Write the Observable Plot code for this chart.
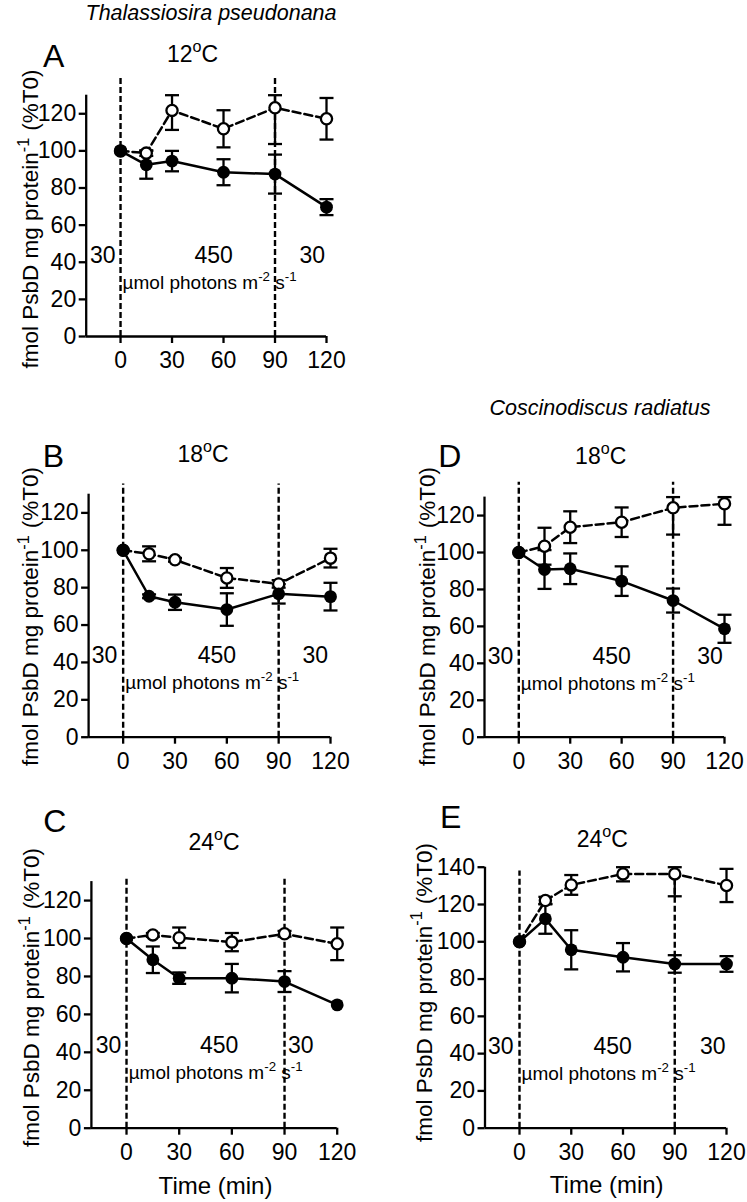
<!DOCTYPE html>
<html><head><meta charset="utf-8">
<script src="https://cdn.jsdelivr.net/npm/d3@7"></script>
<script src="https://cdn.jsdelivr.net/npm/@observablehq/plot@0.6"></script>
<style>
body{margin:0;background:#fff;}
#page{position:relative;width:747px;height:1202px;overflow:hidden;background:#fff;}
.panel{position:absolute;}
.panel svg{overflow:visible;background:none;}
</style></head><body><div id="page"></div>
<script>
// ---------------- data ----------------
const times = [0, 15, 30, 60, 90, 120];
const xTicks = [0, 30, 60, 90, 120];
const lightShifts = [0, 90];
const doseLabels = ["30", "450", "30"];
const panelLetters = ["A", "B", "C", "D", "E"];
const temperatures = ["12", "18", "24", "18", "24"];
const speciesNames = ["Thalassiosira pseudonana", "Coscinodiscus radiatus"];
const yTicks130 = [0, 20, 40, 60, 80, 100, 120];
const yTicks140 = [0, 20, 40, 60, 80, 100, 120, 140];

// Panel A – T. pseudonana 12 °C
const A_filled    = [100, 92.5, 94.5, 88.5, 87.5, 69.7];
const A_filledErr = [0, 7.5, 5.5, 7.0, 10.5, 4.3];
const A_open      = [100, 98.8, 121.8, 111.9, 123.2, 117.3];
const A_openErr   = [0, 1.5, 10.5, 10.0, 19.5, 11.2];
// Panel B – T. pseudonana 18 °C
const B_filled    = [100, 75.4, 72.2, 68.3, 76.7, 75.2];
const B_filledErr = [0, 1.0, 4.1, 8.7, 5.2, 7.4];
const B_open      = [100, 98.1, 94.9, 85.2, 82.0, 95.8];
const B_openErr   = [0, 4.0, 1.0, 5.3, 2.0, 5.0];
// Panel C – T. pseudonana 24 °C
const C_filled    = [100, 88.8, 79.1, 79.1, 77.3, 65.0];
const C_filledErr = [0, 7.0, 3.0, 7.5, 5.5, 0];
const C_open      = [100, 101.9, 100.4, 98.1, 102.5, 97.2];
const C_openErr   = [0, 1.0, 5.4, 4.8, 1.5, 8.6];
// Panel D – C. radiatus 18 °C
const D_filled    = [100, 90.8, 91.2, 84.5, 74.0, 58.7];
const D_filledErr = [0, 10.5, 8.3, 8.0, 6.5, 7.6];
const D_open      = [100, 103.4, 113.7, 116.4, 124.2, 126.4];
const D_openErr   = [0, 10.0, 8.6, 8.0, 14.5, 11.4];
// Panel E – C. radiatus 24 °C
const E_filled    = [100, 112.3, 95.7, 91.7, 88.1, 88.1];
const E_filledErr = [0, 8.0, 10.5, 7.6, 4.7, 4.2];
const E_open      = [100, 122.1, 130.5, 136.4, 136.4, 130.2];
const E_openErr   = [0, 2.0, 5.3, 4.0, 12.0, 8.9];

// ---------------- layout ----------------
const FONT = '"Liberation Sans", Arial, Helvetica, sans-serif';
const xDomain = [-20, 120];
const panels = [
  {id:0, filled:A_filled, filledErr:A_filledErr, open:A_open, openErr:A_openErr, yMax:130, yTicks:yTicks130, dashTop:139.5,
   left:0, top:0, width:373, height:380, mL:85.7, mR:47, mT:94.7, mB:44,
   letter:[43,66.7], temp:[192.5,61.7], yTitle:[38,219], doseX:[-10,54.5,112], species:0, speciesPos:[211,19.5], time:null},
  {id:1, filled:B_filled, filledErr:B_filledErr, open:B_open, openErr:B_openErr, yMax:130, yTicks:yTicks130, dashTop:135.5,
   left:0, top:380, width:373, height:390, mL:88.1, mR:43, mT:113.7, mB:33.3,
   letter:[42.7,87.3], temp:[203,81.7], yTitle:[38,236.5], doseX:[-10.5,54.5,111.5], species:null, time:null},
  {id:2, filled:C_filled, filledErr:C_filledErr, open:C_open, openErr:C_openErr, yMax:130, yTicks:yTicks130, dashTop:132,
   left:0, top:770, width:373, height:432, mL:90.9, mR:36.3, mT:111.1, mB:74.3,
   letter:[43.3,61.7], temp:[214,80], yTitle:[39.3,227.5], doseX:[-10,53,99.5], species:null, time:[215.5,424]},
  {id:3, filled:D_filled, filledErr:D_filledErr, open:D_open, openErr:D_openErr, yMax:130, yTicks:yTicks130, dashTop:138,
   left:373, top:380, width:374, height:390, mL:111, mR:23, mT:116.6, mB:33.3,
   letter:[65.3,86.7], temp:[227.7,84], yTitle:[62,236.5], doseX:[-10.3,54.5,111.8], species:1, speciesPos:[227,35], time:null},
  {id:4, filled:E_filled, filledErr:E_filledErr, open:E_open, openErr:E_openErr, yMax:140, yTicks:yTicks140, dashTop:138,
   left:373, top:770, width:374, height:432, mL:111.5, mR:21, mT:96.7, mB:74.3,
   letter:[67,58.3], temp:[229.3,76.7], yTitle:[58.7,222.5], doseX:[-10.6,54.3,112.3], species:null, time:[233.7,423]}
];

const capSymbol = {draw(ctx, size){const r = Math.sqrt(size/Math.PI); ctx.moveTo(-r,0); ctx.lineTo(r,0);}};

function richText(sel, x, y, parts, o) {
  const t = sel.append("text").attr("x", x).attr("y", y)
    .attr("font-size", o.size).attr("text-anchor", o.anchor || "start")
    .attr("font-family", FONT).attr("fill", "black");
  if (o.rotate) t.attr("transform", `rotate(-90 ${x} ${y})`);
  if (o.italic) t.attr("font-style", "italic");
  let shifted = false;
  for (const p of parts) {
    const s = t.append("tspan").text(p.t);
    if (p.dx) s.attr("dx", p.dx);
    if (p.sup) { s.attr("font-size", o.size * (o.supScale || 0.65)).attr("dy", -o.size * 0.42); shifted = true; }
    else if (shifted) { s.attr("dy", o.size * 0.42); shifted = false; }
  }
  return t;
}

function errorRows(vals, errs, yMax) {
  return times.map((t, i) => ({t, v: vals[i], e: errs[i]}))
    .filter(d => d.e > 0)
    .map(d => ({t: d.t, lo: d.v - d.e, hi: Math.min(d.v + d.e, yMax)}));
}

const page = document.getElementById("page");

for (const p of panels) {
  const rows = times.map((t, i) => ({t, f: p.filled[i], o: p.open[i]}));
  const fErr = errorRows(p.filled, p.filledErr, p.yMax);
  const oErr = errorRows(p.open, p.openErr, p.yMax);
  const caps = bars => bars.flatMap(d => [{t: d.t, v: d.lo}, {t: d.t, v: d.hi}]);

  const chart = Plot.plot({
    width: p.width, height: p.height,
    marginLeft: p.mL, marginRight: p.mR, marginTop: p.mT, marginBottom: p.mB,
    x: {domain: xDomain, axis: null},
    y: {domain: [0, p.yMax], axis: null},
    style: {fontFamily: FONT, fontSize: "23px", color: "black", background: "none", overflow: "visible"},
    marks: [
      Plot.ruleX(lightShifts, {x: d => d, y1: () => 0, y2: () => p.dashTop, stroke: "black", strokeWidth: 2.4, strokeDasharray: "6,3"}),
      Plot.ruleY([0], {x1: () => xDomain[0], x2: () => xDomain[1], stroke: "black", strokeWidth: 2.3}),
      Plot.ruleX([xDomain[0]], {y1: () => 0, y2: () => p.yMax, stroke: "black", strokeWidth: 2.3}),
      Plot.axisX({ticks: xTicks, tickSize: 7, tickPadding: 8, strokeWidth: 2.3, fontSize: 23, label: null, tickFormat: d => String(d), fill: "black", stroke: "black"}),
      Plot.axisY({ticks: p.yTicks, tickSize: 7, tickPadding: 3, strokeWidth: 2.3, fontSize: 23, label: null, tickFormat: d => String(d), fill: "black", stroke: "black"}),
      Plot.line(rows, {x: "t", y: "o", stroke: "black", strokeWidth: 2.5, strokeDasharray: "8,4"}),
      Plot.line(rows, {x: "t", y: "f", stroke: "black", strokeWidth: 2.5}),
      Plot.ruleX(oErr, {x: "t", y1: "lo", y2: "hi", stroke: "black", strokeWidth: 2.3}),
      Plot.dot(caps(oErr), {x: "t", y: "v", symbol: capSymbol, r: 7, stroke: "black", strokeWidth: 2.3}),
      Plot.ruleX(fErr, {x: "t", y1: "lo", y2: "hi", stroke: "black", strokeWidth: 2.3}),
      Plot.dot(caps(fErr), {x: "t", y: "v", symbol: capSymbol, r: 7, stroke: "black", strokeWidth: 2.3}),
      Plot.dot(rows, {x: "t", y: "o", r: 5.6, fill: "white", stroke: "black", strokeWidth: 2.3}),
      Plot.dot(rows, {x: "t", y: "f", r: 6.4, fill: "black", stroke: "none"})
    ]
  });

  const svg = d3.select(chart);
  const sx = chart.scale("x"), sy = chart.scale("y");

  // light-dose annotations
  const doseY = sy.apply(39.5);
  p.doseX.forEach((xv, i) => {
    richText(svg, sx.apply(xv), doseY, [{t: doseLabels[i]}], {size: 23, anchor: "middle"});
  });
  richText(svg, sx.apply(1.5), sy.apply(25.5),
    [{t: "\u00b5mol photons m"}, {t: "-2", sup: true}, {t: " s"}, {t: "-1", sup: true}],
    {size: 19, supScale: 0.7});

  // panel letter, temperature
  richText(svg, p.letter[0], p.letter[1], [{t: panelLetters[p.id]}], {size: 32});
  richText(svg, p.temp[0], p.temp[1], [{t: temperatures[p.id]}, {t: "o", sup: true}, {t: "C"}], {size: 23, anchor: "middle", supScale: 0.7});

  // y title
  richText(svg, p.yTitle[0], p.yTitle[1],
    [{t: "fmol PsbD mg protein"}, {t: "-1", sup: true}, {t: "(%T0)", dx: 7}],
    {size: 22.5, anchor: "middle", rotate: true, supScale: 0.72});

  if (p.time) richText(svg, p.time[0], p.time[1], [{t: "Time (min)"}], {size: 24, anchor: "middle"});
  if (p.species !== null) richText(svg, p.speciesPos[0], p.speciesPos[1], [{t: speciesNames[p.species]}], {size: 21.5, anchor: "middle", italic: true});

  const div = document.createElement("div");
  div.className = "panel";
  div.style.left = p.left + "px";
  div.style.top = p.top + "px";
  div.appendChild(chart);
  page.appendChild(div);
}
</script></body></html>
